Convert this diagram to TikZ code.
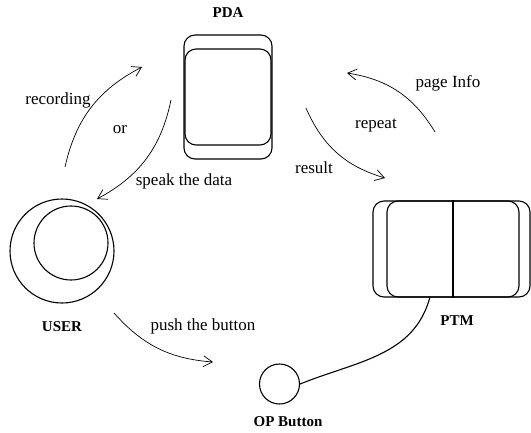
\documentclass[tikz,border=0pt]{standalone}
\usepackage{fontspec}
\setmainfont{Liberation Serif}
\usetikzlibrary{arrows.meta}

\begin{document}
\begin{tikzpicture}[x=1pt,y=1pt,
    every node/.style={font=\fontsize{17}{20}\selectfont},
    title/.style={font=\fontsize{15}{18}\selectfont\bfseries},
    part/.style={draw,line width=1.1pt,rounded corners=11pt,inner sep=0pt},
    flow/.style={line width=0.7pt,-{Straight Barb[length=9pt,width=11pt]}}]
            \useasboundingbox (0,0) rectangle (531,-432);
            % PDA
            \node[part,minimum width=88pt,minimum height=124pt] (pda) at (228,-97) {};
            \node[part,minimum width=86pt,minimum height=96pt] (pdain) at (228,-97) {};
            \node[title] (pdalbl) at (228,-13) {PDA};
            % USER
            \node[draw,circle,line width=1.1pt,minimum size=104pt,inner sep=0pt] (user) at (62,-251) {};
            \node[draw,circle,line width=1.1pt,minimum size=74pt,inner sep=0pt] (userin) at (71,-243) {};
            \node[title] (userlbl) at (62,-327) {USER};
            % PTM
            \node[part,minimum width=157pt,minimum height=96pt] (ptm) at (451.5,-249) {};
            \node[part,minimum width=132pt,minimum height=96pt] (ptmin) at (453,-249) {};
            \draw[line width=1.1pt] (ptmin.north) -- (ptmin.south);
            \node[title] (ptmlbl) at (457,-321) {PTM};
            % OP Button
            \node[draw,circle,line width=1.1pt,minimum size=40pt,inner sep=0pt] (op) at (279.5,-384) {};
            \node[title] (oplbl) at (288,-422) {OP Button};
            \coordinate (ptmlink) at (430,-297);
            \draw[line width=1.1pt] (op.east) to[out=22,in=-105] (ptmlink);
            % arrows
            \coordinate (rec1) at (65,-167);
            \coordinate (rec2) at (142,-67);
            \coordinate (spk1) at (171,-100);
            \coordinate (spk2) at (97,-199);
            \coordinate (res1) at (306,-108);
            \coordinate (res2) at (385,-178);
            \coordinate (pag1) at (435,-132);
            \coordinate (pag2) at (347,-73);
            \coordinate (psh1) at (114,-313);
            \coordinate (psh2) at (213,-362);
            \draw[flow] (rec1) to[bend left=25] (rec2);
            \draw[flow] (spk1) to[bend left=25] (spk2);
            \draw[flow] (res1) to[bend right=25] (res2);
            \draw[flow] (pag1) to[bend right=25] (pag2);
            \draw[flow] (psh1) to[bend right=22] (psh2);
            \node (recl) at (58,-100) {recording};
            \node (orl) at (120,-130) {or};
            \node (spkl) at (184,-181) {speak the data};
            \node (resl) at (314,-168) {result};
            \node (repl) at (376,-126) {repeat};
            \node (pagl) at (448,-83) {page Info};
            \node (pshl) at (203,-326) {push the button};
\end{tikzpicture}
\end{document}
